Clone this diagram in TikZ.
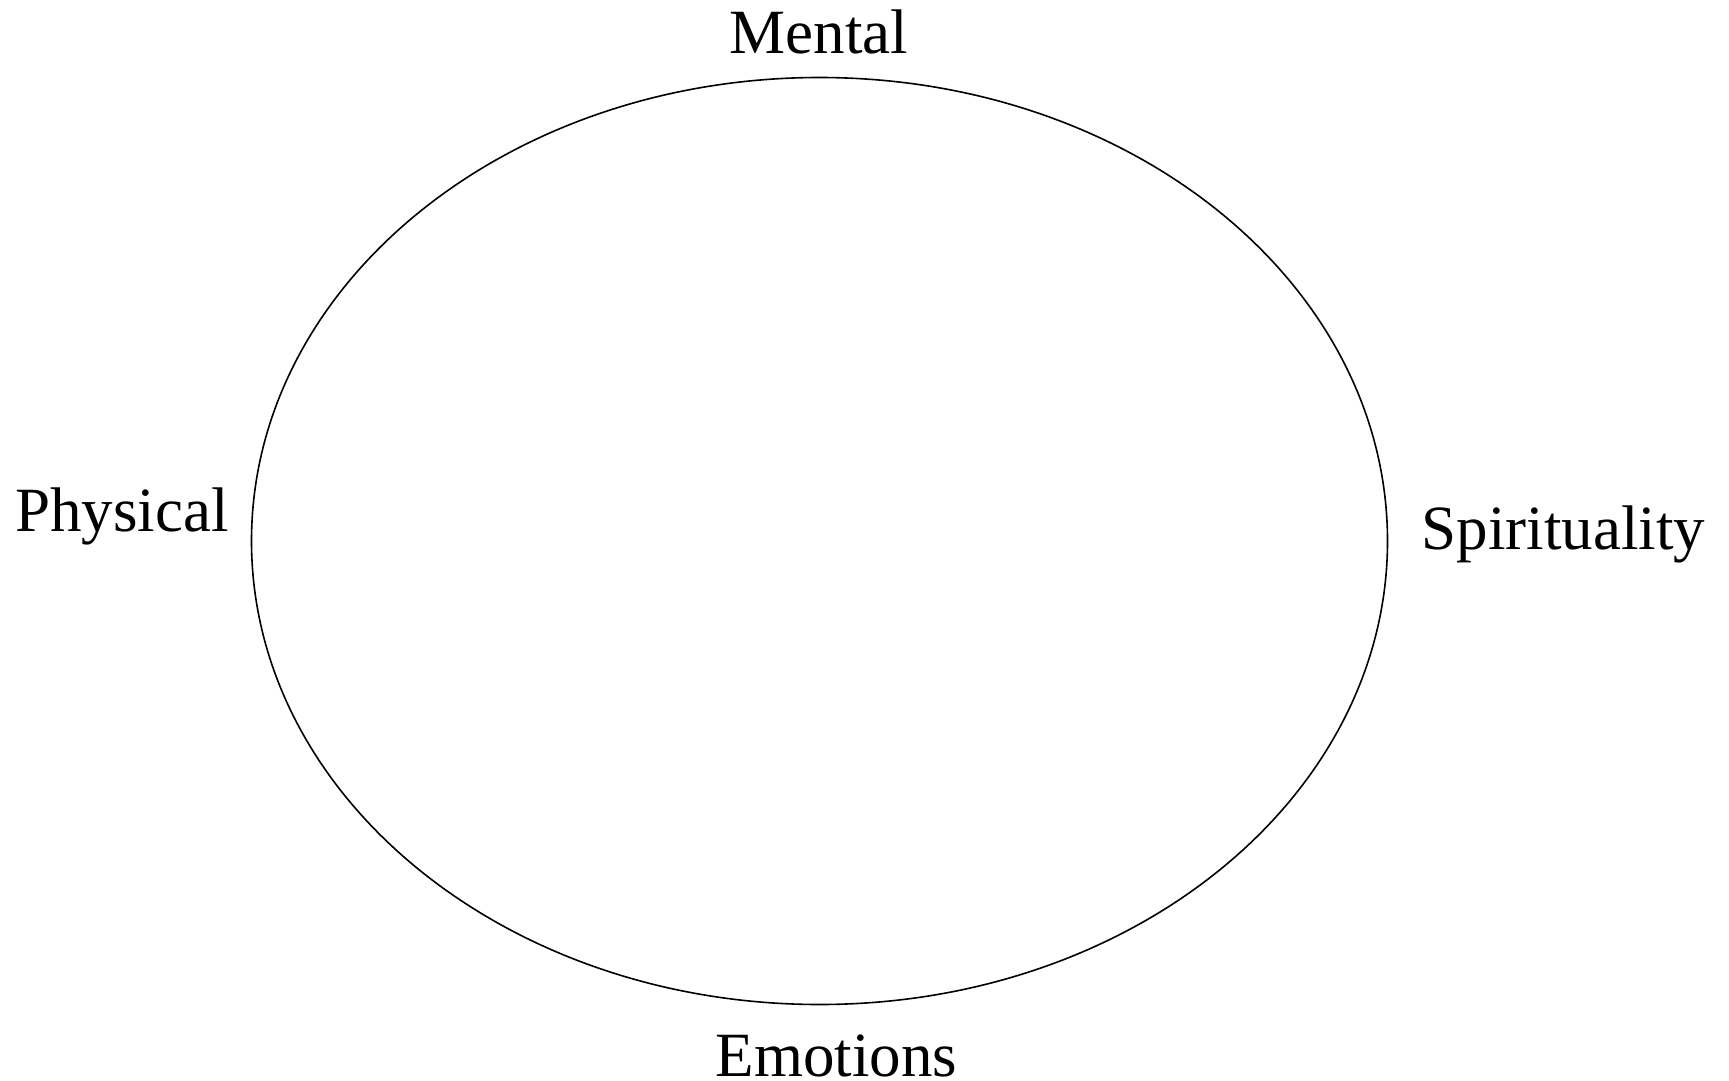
\documentclass[tikz,border=0pt]{standalone}
\usepackage{fontspec}
\usetikzlibrary{shapes.geometric}
\setmainfont{Liberation Serif}
\begin{document}
\begin{tikzpicture}[x=1pt,y=-1pt,
  lbl/.style={anchor=base,inner sep=0pt,font=\fontsize{63}{70}\selectfont}]
\useasboundingbox (0,0) rectangle (1729,1081);
\node[draw,ellipse,line width=1.6pt,minimum width=1136pt,minimum height=927pt,inner sep=0pt] (e) at (819.5,541) {};
\node[lbl] (m) at (819,53) {Mental};
\node[lbl] (p) at (122,531) {Physical};
\node[lbl] (s) at (1563.5,549) {Spirituality};
\node[lbl] (em) at (836.5,1076) {Emotions};
\end{tikzpicture}
\end{document}
